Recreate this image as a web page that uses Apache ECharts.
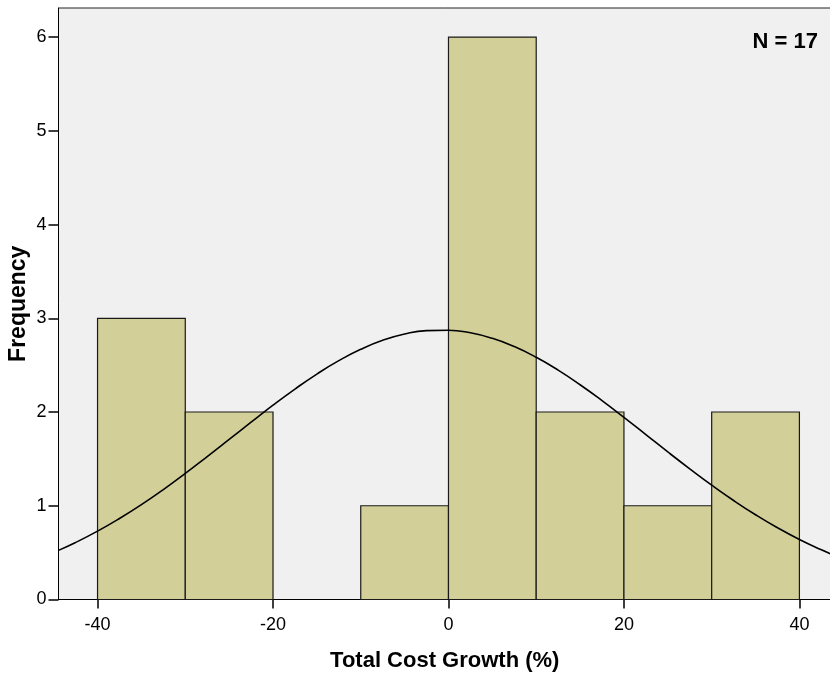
<!DOCTYPE html>
<html>
<head>
<meta charset="utf-8">
<script src="https://cdn.jsdelivr.net/npm/echarts@6/dist/echarts.min.js"></script>
<style>html,body{margin:0;padding:0;background:#fff}#c{width:830px;height:675px}</style>
</head>
<body>
<div id="c"></div>
<script>
// Histogram bins (Total Cost Growth %)
var binStarts = [-40, -30, -20, -10, 0, 10, 20, 30];
var binEnds   = [-30, -20, -10, 0, 10, 20, 30, 40];
var binCounts = [3, 2, 0, 1, 6, 2, 1, 2];
// Normal curve points
var curveX = [-44.45, -42.5, -40, -37.5, -35, -32.5, -30, -27.5, -25, -22.5, -20, -17.5, -15, -12.5, -10, -7.5, -5, -2.5, 0, 2.5, 5, 7.5, 10, 12.5, 15, 17.5, 20, 22.5, 25, 27.5, 30, 32.5, 35, 37.5, 40, 42.5, 43.6];
var curveY = [0.524, 0.608, 0.729, 0.864, 1.012, 1.173, 1.345, 1.524, 1.707, 1.891, 2.073, 2.245, 2.405, 2.548, 2.669, 2.765, 2.832, 2.868, 2.873, 2.845, 2.786, 2.698, 2.584, 2.447, 2.291, 2.122, 1.943, 1.759, 1.574, 1.394, 1.220, 1.056, 0.904, 0.765, 0.640, 0.530, 0.486];
var xTicks = [-40, -20, 0, 20, 40];
var yTicks = [0, 1, 2, 3, 4, 5, 6];
var nLabel = 'N = 17';

var FONT = '"Liberation Sans", Arial, sans-serif';
var chart = echarts.init(document.getElementById('c'), null, {renderer: 'canvas'});

var barData = binStarts.map(function (s, i) { return [s, binEnds[i], binCounts[i]]; });
var lineData = curveX.map(function (x, i) { return [x, curveY[i]]; });

chart.setOption({
  animation: false,
  backgroundColor: '#ffffff',
  grid: {
    left: 58.5, top: 8, right: -1, bottom: 75.5,
    outerBoundsMode: 'none', containLabel: false,
    show: true, backgroundColor: '#f0f0f0', borderColor: '#222', borderWidth: 1
  },
  xAxis: {
    type: 'value', min: -44.45, max: 43.6,
    name: 'Total Cost Growth (%)', nameLocation: 'middle', nameGap: 50, nameMoveOverlap: false,
    nameTextStyle: {fontFamily: FONT, fontSize: 22, fontWeight: 'bold', color: '#000'},
    axisLine: {show: true, onZero: false, lineStyle: {color: '#000', width: 1}},
    axisTick: {show: true, length: 9, customValues: xTicks, lineStyle: {color: '#000', width: 1.5}},
    axisLabel: {customValues: xTicks, margin: 17, fontFamily: FONT, fontSize: 18, color: '#000'},
    splitLine: {show: false}
  },
  yAxis: {
    type: 'value', min: 0, max: 6.31,
    name: 'Frequency', nameLocation: 'middle', nameGap: 28.5, nameMoveOverlap: false,
    nameTextStyle: {fontFamily: FONT, fontSize: 23, fontWeight: 'bold', color: '#000'},
    axisLine: {show: true, onZero: false, lineStyle: {color: '#000', width: 1}},
    axisTick: {show: true, length: 10, customValues: yTicks, lineStyle: {color: '#000', width: 1.5}},
    axisLabel: {customValues: yTicks, margin: 12, fontFamily: FONT, fontSize: 18, color: '#000'},
    splitLine: {show: false}
  },
  graphic: [{
    type: 'text', right: 12, top: 31, z: 100,
    style: {text: nLabel, font: 'bold 22px ' + FONT, fill: '#000'}
  }],
  series: [{
    type: 'custom',
    data: barData,
    encode: {x: [0, 1], y: 2},
    renderItem: function (params, api) {
      var c = api.value(2);
      if (!c) return null;
      var p0 = api.coord([api.value(0), 0]);
      var p1 = api.coord([api.value(1), c]);
      return {
        type: 'rect',
        shape: {x: p0[0], y: p1[1], width: p1[0] - p0[0], height: p0[1] - p1[1]},
        style: {fill: '#d3cf99', stroke: '#1a1a1a', lineWidth: 1.2}
      };
    },
    z: 2
  }, {
    type: 'line',
    data: lineData,
    smooth: true,
    showSymbol: false,
    symbol: 'none',
    lineStyle: {color: '#000', width: 1.6},
    z: 3
  }]
});
</script>
</body>
</html>
